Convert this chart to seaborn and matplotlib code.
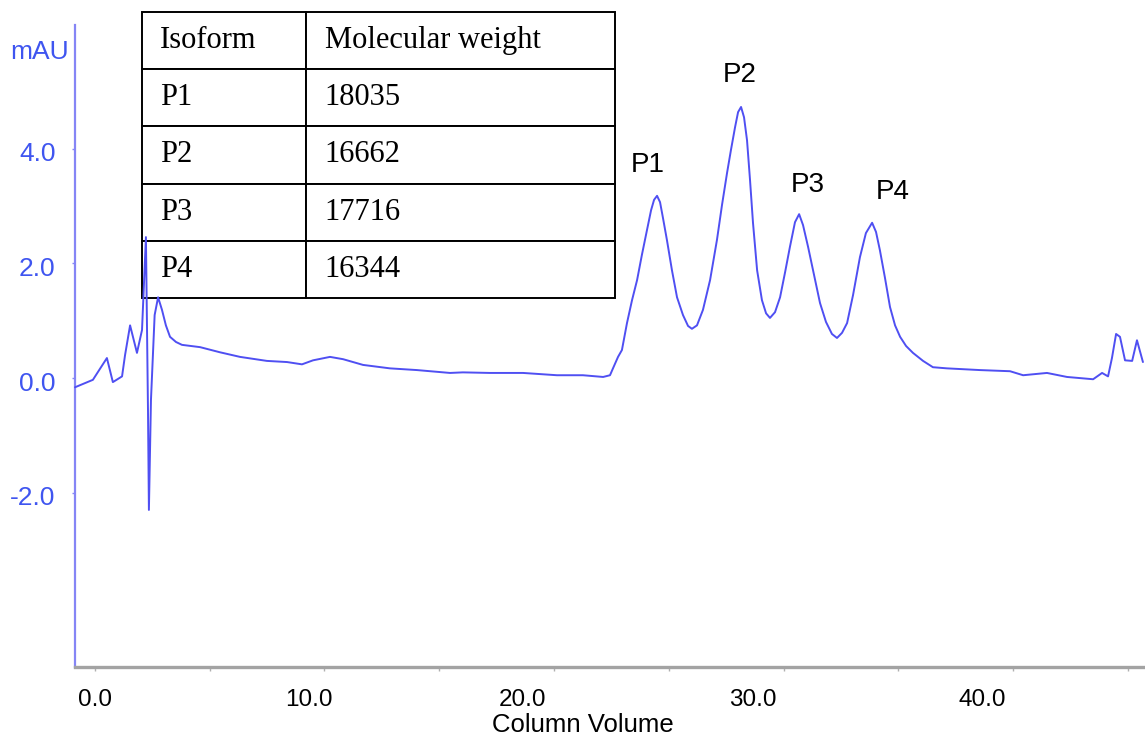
import matplotlib
matplotlib.use("Agg")
import matplotlib.pyplot as plt
import matplotlib.transforms as mtransforms
import seaborn as sns
import pandas as pd

# ---- data ----
column_volume = [-0.87, -0.09, 0.52, 0.78, 1.18, 1.31, 1.53, 1.83, 2.05, 2.22, 2.31, 2.35,
                 2.44, 2.60, 2.75, 2.92, 3.09, 3.27, 3.53, 3.79, 4.58, 5.45, 6.32, 7.49,
                 8.37, 9.02, 9.50, 10.24, 10.81, 11.68, 12.85, 14.03, 15.47, 16.03, 17.21,
                 18.65, 20.13, 21.26, 22.14, 22.44, 22.57, 22.79, 22.96, 23.18, 23.40,
                 23.62, 23.83, 24.05, 24.23, 24.36, 24.49, 24.62, 24.75, 24.92, 25.14,
                 25.36, 25.62, 25.84, 26.01, 26.23, 26.49, 26.80, 27.10, 27.32, 27.54,
                 27.71, 27.89, 28.02, 28.15, 28.28, 28.41, 28.54, 28.67, 28.85, 29.06,
                 29.24, 29.41, 29.63, 29.85, 30.07, 30.28, 30.50, 30.68, 30.85, 31.07,
                 31.33, 31.59, 31.85, 32.11, 32.33, 32.55, 32.77, 33.03, 33.33, 33.59,
                 33.86, 34.03, 34.20, 34.42, 34.64, 34.86, 35.08, 35.34, 35.64, 36.08,
                 36.51, 37.12, 38.56, 39.87, 40.44, 41.48, 42.35, 43.49, 43.88, 44.14,
                 44.31, 44.49, 44.66, 44.88, 45.19, 45.40, 45.66]
absorbance = [-0.16, -0.03, 0.35, -0.07, 0.03, 0.40, 0.92, 0.44, 0.84, 2.46, -0.56, -2.30,
              -0.38, 1.10, 1.41, 1.19, 0.92, 0.72, 0.63, 0.58, 0.54, 0.45, 0.37, 0.30,
              0.28, 0.24, 0.31, 0.37, 0.33, 0.23, 0.17, 0.14, 0.09, 0.10, 0.09,
              0.09, 0.05, 0.05, 0.02, 0.05, 0.17, 0.37, 0.49, 0.96, 1.36,
              1.71, 2.15, 2.58, 2.93, 3.11, 3.18, 3.07, 2.79, 2.41, 1.88,
              1.41, 1.10, 0.91, 0.86, 0.92, 1.19, 1.71, 2.41, 3.02, 3.58,
              3.98, 4.38, 4.64, 4.73, 4.55, 4.15, 3.46, 2.71, 1.88, 1.36,
              1.13, 1.05, 1.15, 1.41, 1.85, 2.29, 2.72, 2.86, 2.67, 2.29,
              1.80, 1.31, 0.98, 0.77, 0.70, 0.79, 0.96, 1.45, 2.11, 2.53,
              2.71, 2.55, 2.23, 1.75, 1.24, 0.92, 0.72, 0.56, 0.44, 0.30,
              0.19, 0.17, 0.14, 0.12, 0.05, 0.09, 0.02, -0.02, 0.09, 0.03,
              0.35, 0.77, 0.72, 0.31, 0.30, 0.66, 0.28]

peak_labels = ["P1", "P2", "P3", "P4"]
peak_label_x = [24.1, 28.1, 31.07, 34.77]
peak_label_y = [3.72, 5.29, 3.37, 3.25]

x_ticks = [0, 10, 20, 30, 40]
x_tick_labels = ["0.0", "10.0", "20.0", "30.0", "40.0"]
x_minor = [5, 15, 25, 35, 45]
y_ticks = [-2, 0, 2, 4]
y_tick_labels = ["-2.0", "0.0", "2.0", "4.0"]

table_header = ["Isoform", "Molecular weight"]
isoforms = ["P1", "P2", "P3", "P4"]
mol_weights = ["18035", "16662", "17716", "16344"]

# ---- style ----
sns.set_style("white")
plt.rcParams["font.family"] = ["Liberation Sans", "DejaVu Sans"]

BLUE_LINE = "#4f4ff2"
BLUE_TEXT = "#3f55f0"

fig = plt.figure(figsize=(11.45, 7.38), dpi=100)
ax = fig.add_axes([75 / 1145, 1 - 667 / 738, 1070 / 1145, 642 / 738])

df = pd.DataFrame({"cv": column_volume, "mAU": absorbance})
sns.lineplot(data=df, x="cv", y="mAU", ax=ax, color=BLUE_LINE, lw=1.4,
             sort=False, zorder=5, clip_on=False)

ax.set_xlim(-0.87, 45.75)
ax.set_ylim(-5.04, 6.16)

# spines
for s in ["top", "right"]:
    ax.spines[s].set_visible(False)
ax.spines["left"].set_color("#8585f5")
ax.spines["left"].set_linewidth(1.6)
ax.spines["bottom"].set_color("#a3a3a3")
ax.spines["bottom"].set_linewidth(2.4)

# ticks
ax.set_xticks(x_ticks)
ax.set_xticklabels(x_tick_labels, fontsize=17.5, color="black")
ax.set_xticks(x_minor, minor=True)
ax.tick_params(axis="x", which="both", direction="out", length=3, width=1,
               color="#b0b0b0", pad=13, bottom=True)
offsets = [0, -16, -31, -31, -31]
for lab, off in zip(ax.get_xticklabels(), offsets):
    lab.set_transform(lab.get_transform() +
                      mtransforms.ScaledTranslation(off / 100, 0, fig.dpi_scale_trans))

ax.set_yticks(y_ticks)
ax.set_yticklabels(y_tick_labels, fontsize=19, color=BLUE_TEXT)
ax.tick_params(axis="y", direction="out", length=2, width=1, color="#8585f5", pad=12, left=True)
for lab in ax.get_yticklabels():
    lab.set_transform(lab.get_transform() +
                      mtransforms.ScaledTranslation(0, -3 / 100, fig.dpi_scale_trans))

ax.set_xlabel("Column Volume", fontsize=18.5, color="black")
ax.xaxis.set_label_coords(0.475, -0.072)
ax.xaxis.label.set_va("top")
ax.set_ylabel("")
fig.text(40 / 1145, 1 - 52 / 738, "mAU", fontsize=19, color=BLUE_TEXT,
         ha="center", va="center")

# peak labels
for t, px, py in zip(peak_labels, peak_label_x, peak_label_y):
    ax.text(px, py, t, fontsize=20, color="black", ha="center", va="center")

# ---- table ----
cell_text = [table_header] + [[i, w] for i, w in zip(isoforms, mol_weights)]
tx0 = (142 - 75) / 1070
ty0 = (667 - 298) / 642
tw = (615 - 142) / 1070
th = (298 - 12) / 642
tbl = ax.table(cellText=cell_text, cellLoc="left",
               colWidths=[164 / 473, 309 / 473],
               bbox=[tx0, ty0, tw, th], zorder=2)
tbl.auto_set_font_size(False)
for (r, c), cell in tbl.get_celld().items():
    cell.set_edgecolor("black")
    cell.set_linewidth(1.4)
    cell.set_facecolor("white")
    cell.PAD = 0.11 if c == 0 else 0.06
    txt = cell.get_text()
    txt.set_fontfamily(["Liberation Serif", "DejaVu Serif"])
    txt.set_fontsize(22)
    txt.set_color("black")
tbl.set_clip_on(False)
for cell in tbl.get_celld().values():
    cell.set_clip_on(False)

fig.savefig("out.png", dpi=100)
